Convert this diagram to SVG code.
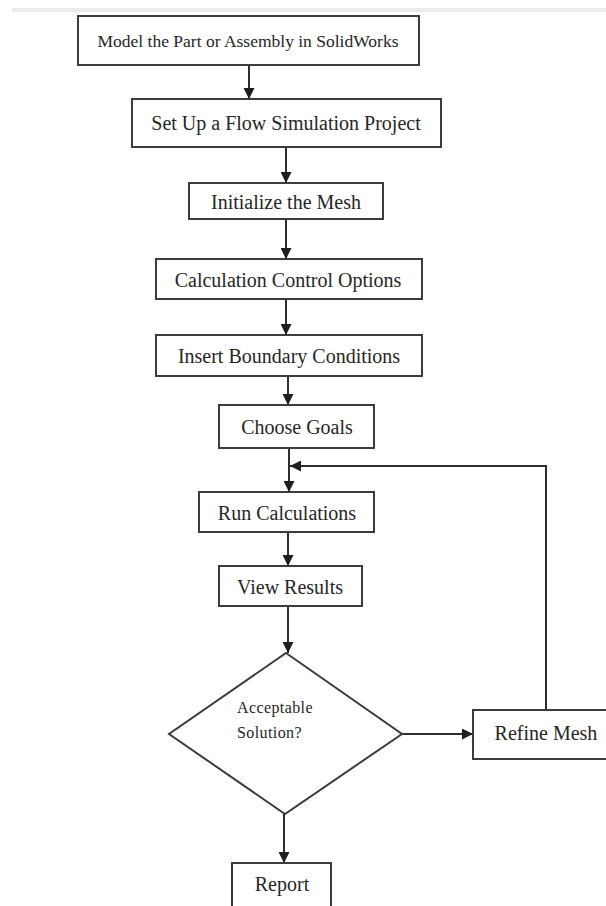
<svg xmlns="http://www.w3.org/2000/svg" width="606" height="906" viewBox="0 0 606 906">
  <defs>
    <marker id="arrow" viewBox="0 0 10 10" refX="10" refY="5" markerWidth="11" markerHeight="11" markerUnits="userSpaceOnUse" orient="auto">
      <path d="M0,0 L10,5 L0,10 z" fill="#1e1e1e"/>
    </marker>
    <style>
      .box { fill: #ffffff; stroke: #3c3c3c; stroke-width: 2; }
      .label { font-family: "Liberation Serif", "Times New Roman", serif; fill: #262626; text-anchor: middle; dominant-baseline: central; }
      .small { font-family: "Liberation Serif", "Times New Roman", serif; fill: #262626; font-size: 16px; letter-spacing: 0.4px; }
      .edge { fill: none; stroke: #2e2e2e; stroke-width: 2; }
      .edge-arrow { marker-end: url(#arrow); }
    </style>
  </defs>

  <rect width="606" height="906" fill="#ffffff"/>
  <!-- thin rule along the top -->
  <rect x="12" y="8" width="594" height="4" fill="#ebebeb"/>

  <g id="connectors">
    <line class="edge edge-arrow" x1="249" y1="65" x2="249" y2="99"/>
    <line class="edge edge-arrow" x1="286" y1="147" x2="286" y2="183"/>
    <line class="edge edge-arrow" x1="286" y1="219" x2="286" y2="259"/>
    <line class="edge edge-arrow" x1="286" y1="299" x2="286" y2="335"/>
    <line class="edge edge-arrow" x1="288" y1="376" x2="288" y2="405"/>
    <line class="edge edge-arrow" x1="289" y1="448" x2="289" y2="492"/>
    <line class="edge edge-arrow" x1="288" y1="532" x2="288" y2="566"/>
    <line class="edge edge-arrow" x1="288" y1="606" x2="288" y2="653"/>
    <line class="edge edge-arrow" x1="402" y1="734" x2="473" y2="734"/>
    <line class="edge edge-arrow" x1="284" y1="814" x2="284" y2="863"/>
    <polyline class="edge edge-arrow" points="546,710 546,466 290,466"/>
  </g>

  <g id="model">
    <rect class="box" x="78" y="16" width="341" height="49"/>
    <text class="label" x="248" y="41" font-size="17.5">Model the Part or Assembly in SolidWorks</text>
  </g>
  <g id="setup">
    <rect class="box" x="132" y="99" width="309" height="48"/>
    <text class="label" x="286" y="123" font-size="20">Set Up a Flow Simulation Project</text>
  </g>
  <g id="mesh">
    <rect class="box" x="189" y="183" width="194" height="36"/>
    <text class="label" x="286" y="202" font-size="20">Initialize the Mesh</text>
  </g>
  <g id="control">
    <rect class="box" x="156" y="259" width="266" height="40"/>
    <text class="label" x="288" y="280" font-size="20">Calculation Control Options</text>
  </g>
  <g id="boundary">
    <rect class="box" x="156" y="335" width="266" height="41"/>
    <text class="label" x="289" y="356" font-size="20">Insert Boundary Conditions</text>
  </g>
  <g id="goals">
    <rect class="box" x="219" y="405" width="155" height="43"/>
    <text class="label" x="297" y="427" font-size="20">Choose Goals</text>
  </g>
  <g id="run">
    <rect class="box" x="199" y="492" width="175" height="40"/>
    <text class="label" x="287" y="513" font-size="20">Run Calculations</text>
  </g>
  <g id="results">
    <rect class="box" x="219" y="566" width="143" height="40"/>
    <text class="label" x="290" y="587" font-size="20">View Results</text>
  </g>
  <g id="decision">
    <polygon class="box" points="286,653 402,734 285,814 169,734"/>
    <text class="small" x="237" y="713">Acceptable</text>
    <text class="small" x="237" y="738">Solution?</text>
  </g>
  <g id="refine">
    <rect class="box" x="473" y="710" width="145" height="49"/>
    <text class="label" x="546" y="733" font-size="20">Refine Mesh</text>
  </g>
  <g id="report">
    <rect class="box" x="232" y="863" width="99" height="60"/>
    <text class="label" x="282" y="884" font-size="20">Report</text>
  </g>
</svg>
